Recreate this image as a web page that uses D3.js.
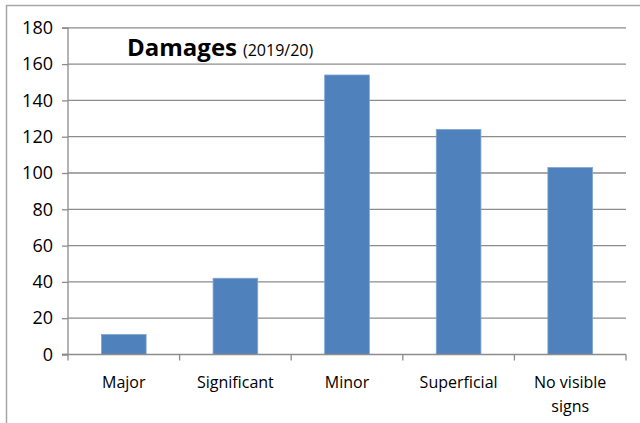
<!DOCTYPE html>
<html><head><meta charset="utf-8">
<script src="https://cdn.jsdelivr.net/npm/d3@7"></script>
<style>html,body{margin:0;padding:0;background:#fff;}svg{display:block;}</style>
</head><body>
<svg id="c" width="640" height="423"></svg>
<script>
const categories = ["Major", "Significant", "Minor", "Superficial", "No visible signs"];
const values = [11, 42, 154, 124, 103];
const yTicks = [0, 20, 40, 60, 80, 100, 120, 140, 160, 180];
const titleMain = "Damages";
const titleSub = "(2019/20)";

const font = "'Open Sans', sans-serif";
const svg = d3.select("#c");
const L = 68, R = 626, T = 27.8, B = 354.5;

svg.append("rect").attr("x", 6.5).attr("y", 5.5).attr("width", 700).attr("height", 500)
  .attr("fill", "#fff").attr("stroke", "#a6a6a6").attr("stroke-width", 1.5);

const x = d3.scaleBand().domain(categories).range([L, R]).paddingInner(0.6).paddingOuter(0.3);
const y = d3.scaleLinear().domain([0, 180]).range([B, T]);

// gridlines
svg.append("g").selectAll("line").data(yTicks.filter(d => d > 0)).join("line")
  .attr("x1", L).attr("x2", R).attr("y1", d => y(d)).attr("y2", d => y(d))
  .attr("stroke", "#8c8c8c").attr("stroke-width", 1.3);

// bars
svg.append("g").selectAll("rect").data(values).join("rect")
  .attr("x", (d, i) => x(categories[i]))
  .attr("y", d => y(d))
  .attr("width", x.bandwidth())
  .attr("height", d => B - y(d))
  .attr("fill", "#4f81bd").attr("stroke", "#7fa3d1").attr("stroke-width", 0.8);

// y axis
const yAxis = d3.axisLeft(y).tickValues(yTicks).tickSize(6).tickPadding(9);
const gy = svg.append("g").attr("transform", `translate(${L},0)`).call(yAxis);
gy.select(".domain").attr("stroke", "#8c8c8c").attr("stroke-width", 1.3).attr("d", `M-6,${B}H0V${T}H-6`);
gy.selectAll(".tick line").attr("stroke", "#8c8c8c").attr("stroke-width", 1.3);
gy.selectAll(".tick text").attr("font-family", font).attr("font-size", 18).attr("fill", "#000");

// x axis
const boundaries = d3.range(categories.length + 1).map(i => L + i * (R - L) / categories.length);
svg.append("line").attr("x1", L - 6).attr("x2", R).attr("y1", B).attr("y2", B)
  .attr("stroke", "#8c8c8c").attr("stroke-width", 1.3);
svg.append("g").selectAll("line").data(boundaries).join("line")
  .attr("x1", d => d).attr("x2", d => d).attr("y1", B).attr("y2", B + 6)
  .attr("stroke", "#8c8c8c").attr("stroke-width", 1.3);

const labels = svg.append("g").selectAll("text").data(categories).join("text")
  .attr("x", d => x(d) + x.bandwidth() / 2)
  .attr("y", 388)
  .attr("text-anchor", "middle")
  .attr("font-family", font).attr("font-size", 16).attr("fill", "#000");
labels.each(function(d) {
  const t = d3.select(this);
  if (d === "No visible signs") {
    t.append("tspan").attr("x", x(d) + x.bandwidth() / 2).attr("dy", 0).text("No visible");
    t.append("tspan").attr("x", x(d) + x.bandwidth() / 2).attr("dy", 24).text("signs");
  } else t.text(d);
});

// title
const title = svg.append("text").attr("x", 127).attr("y", 56)
  .attr("font-family", font).attr("fill", "#000");
title.append("tspan").attr("font-size", 24).attr("font-weight", "bold").text(titleMain);
title.append("tspan").attr("font-size", 16).attr("dx", 6).text(titleSub);
</script>
</body></html>
